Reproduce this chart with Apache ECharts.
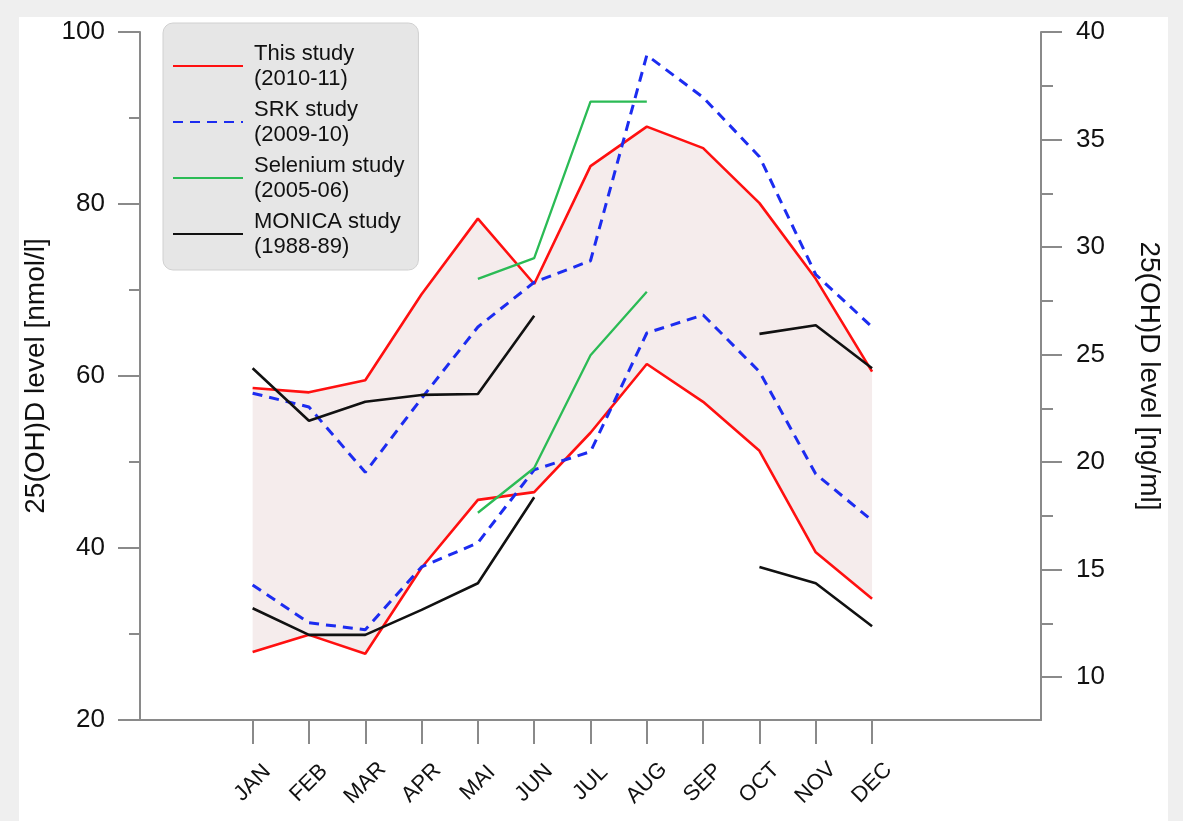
<!DOCTYPE html>
<html>
<head>
<meta charset="utf-8">
<script src="https://cdn.jsdelivr.net/npm/echarts@6/dist/echarts.min.js"></script>
<style>
  body { margin: 0; background: #efefef; }
  #chart { position: absolute; left: 19px; top: 17px; width: 1149px; height: 804px; background: #fff; }
</style>
</head>
<body>
<div id="chart"></div>
<script>
var months = ['JAN','FEB','MAR','APR','MAI','JUN','JUL','AUG','SEP','OCT','NOV','DEC'];
// empty slots so the axis runs past JAN and DEC like in the original
var pad_left = ['', ' '];
var pad_right = ['  ', '   ', '    '];

var study_names = ['This study', 'SRK study', 'Selenium study', 'MONICA study'];
var study_years = ['(2010-11)', '(2009-10)', '(2005-06)', '(1988-89)'];

// nmol/l
var this_upper = [58.6, 58.1, 59.5, 69.5, 78.3, 70.7, 84.4, 89.0, 86.5, 80.1, 71.3, 60.5];
var this_lower = [27.9, 29.9, 27.7, 37.7, 45.6, 46.5, 53.4, 61.4, 57.0, 51.3, 39.5, 34.1];
var srk_upper = [58.0, 56.4, 48.8, 57.4, 65.7, 70.9, 73.4, 97.3, 92.4, 85.5, 71.8, 65.7];
var srk_lower = [35.7, 31.3, 30.5, 37.8, 40.6, 49.1, 51.2, 65.0, 67.1, 60.5, 48.6, 43.2];
var sel_upper = [null, null, null, null, 71.3, 73.7, 91.9, 91.9, null, null, null, null];
var sel_lower = [null, null, null, null, 44.1, 49.3, 62.4, 69.8, null, null, null, null];
var mon_upper = [60.9, 54.8, 57.0, 57.8, 57.9, 67.0, null, null, null, 64.9, 65.9, 60.9];
var mon_lower = [33.0, 29.9, 29.9, 32.8, 35.9, 45.9, null, null, null, 37.8, 35.9, 30.9];

var right_ticks = [10, 15, 20, 25, 30, 35, 40];
var right_minor_ticks = [12.5, 17.5, 22.5, 27.5, 32.5, 37.5];

var colors = ['#ff1010', '#1c2cf0', '#2bbb55', '#111111'];

function pad(arr){
  var out = Array()
  pad_left.forEach(function(){ out.push('-') })
  arr.forEach(function(v){ out.push(v === null ? '-' : v) })
  pad_right.forEach(function(){ out.push('-') })
  return out
}

var categories = pad_left.concat(months, pad_right);
var band = this_upper.map(function(v, i){ return +(v - this_lower[i]).toFixed(2) });

function line(name, data, color, dashed, width){
  return {
    name: name,
    type: 'line',
    data: pad(data),
    symbol: 'none',
    z: 5,
    lineStyle: { color: color, width: width, type: dashed ? [10, 7] : 'solid' },
    itemStyle: { color: color }
  }
}

var chart_div = echarts.init(document.getElementById('chart'));
var font = 'Arial, "Liberation Sans", Helvetica, sans-serif';
var axis_grey = '#8a8a8a';

option = {
  animation: false,
  textStyle: { fontFamily: font },
  grid: { left: 121, top: 15, right: 127, bottom: 101, outerBoundsMode: 'none', containLabel: false },
  legend: {
    data: study_names,
    orient: 'vertical',
    left: 144,
    top: 6,
    itemWidth: 70,
    itemHeight: 14,
    itemGap: 6,
    padding: [18, 14, 11, 9],
    backgroundColor: '#e6e6e6',
    borderColor: '#d0d0d0',
    borderWidth: 1,
    borderRadius: 10,
    selectedMode: false,
    itemStyle: { opacity: 0 },
    formatter: function(n){ return n + '\n' + study_years[study_names.indexOf(n)] },
    textStyle: { fontSize: 22, lineHeight: 25, color: '#111', fontFamily: font, padding: [0, 0, 0, 6] }
  },
  xAxis: {
    type: 'category',
    data: categories,
    boundaryGap: false,
    splitLine: { show: false },
    axisLine: { show: true, onZero: false, lineStyle: { color: axis_grey, width: 2 } },
    axisTick: {
      show: true,
      interval: function(index, value){ return months.indexOf(value) >= 0 },
      length: 24,
      lineStyle: { color: axis_grey, width: 2 }
    },
    axisLabel: {
      interval: 0,
      rotate: 45,
      align: 'center',
      verticalAlign: 'middle',
      margin: 63,
      fontSize: 22,
      color: '#111'
    }
  },
  yAxis: [
    {
      type: 'value',
      min: 20,
      max: 100,
      interval: 20,
      name: '25(OH)D level [nmol/l]',
      nameLocation: 'middle',
      nameRotate: 90,
      nameGap: 88,
      nameTextStyle: { fontSize: 28, color: '#111' },
      splitLine: { show: false },
      axisLine: { show: true, lineStyle: { color: axis_grey, width: 2 } },
      axisTick: { show: true, length: 22, lineStyle: { color: axis_grey, width: 2 } },
      minorTick: { show: true, splitNumber: 2, length: 11, lineStyle: { color: axis_grey, width: 2 } },
      axisLabel: { margin: 35, fontSize: 26, color: '#111' }
    },
    {
      type: 'value',
      position: 'right',
      min: 8,
      max: 40,
      name: '25(OH)D level [ng/ml]',
      nameLocation: 'middle',
      nameRotate: -90,
      nameGap: 94,
      nameTextStyle: { fontSize: 28, color: '#111' },
      splitLine: { show: false },
      axisLine: { show: true, lineStyle: { color: axis_grey, width: 2 } },
      axisTick: { show: true, customValues: right_ticks, length: 21, lineStyle: { color: axis_grey, width: 2 } },
      axisLabel: { customValues: right_ticks, margin: 35, fontSize: 26, color: '#111' }
    },
    {
      type: 'value',
      position: 'right',
      offset: 0,
      min: 8,
      max: 40,
      splitLine: { show: false },
      axisLine: { show: false },
      axisTick: { show: true, customValues: right_minor_ticks, length: 12, lineStyle: { color: axis_grey, width: 2 } },
      axisLabel: { show: false }
    }
  ],
  series: [
    {
      name: 'base',
      type: 'line',
      stack: 'band',
      data: pad(this_lower),
      symbol: 'none',
      lineStyle: { width: 0 },
      z: 1,
      silent: true
    },
    {
      name: 'band',
      type: 'line',
      stack: 'band',
      data: pad(band),
      symbol: 'none',
      lineStyle: { width: 0 },
      areaStyle: { color: '#f5ecec', opacity: 1 },
      z: 1,
      silent: true
    },
    line(study_names[0], this_upper, colors[0], false, 2.6),
    line(study_names[0], this_lower, colors[0], false, 2.6),
    line(study_names[1], srk_upper, colors[1], true, 3),
    line(study_names[1], srk_lower, colors[1], true, 3),
    line(study_names[2], sel_upper, colors[2], false, 2.3),
    line(study_names[2], sel_lower, colors[2], false, 2.3),
    line(study_names[3], mon_upper, colors[3], false, 2.6),
    line(study_names[3], mon_lower, colors[3], false, 2.6)
  ]
};

chart_div.setOption(option, true);
</script>
</body>
</html>
